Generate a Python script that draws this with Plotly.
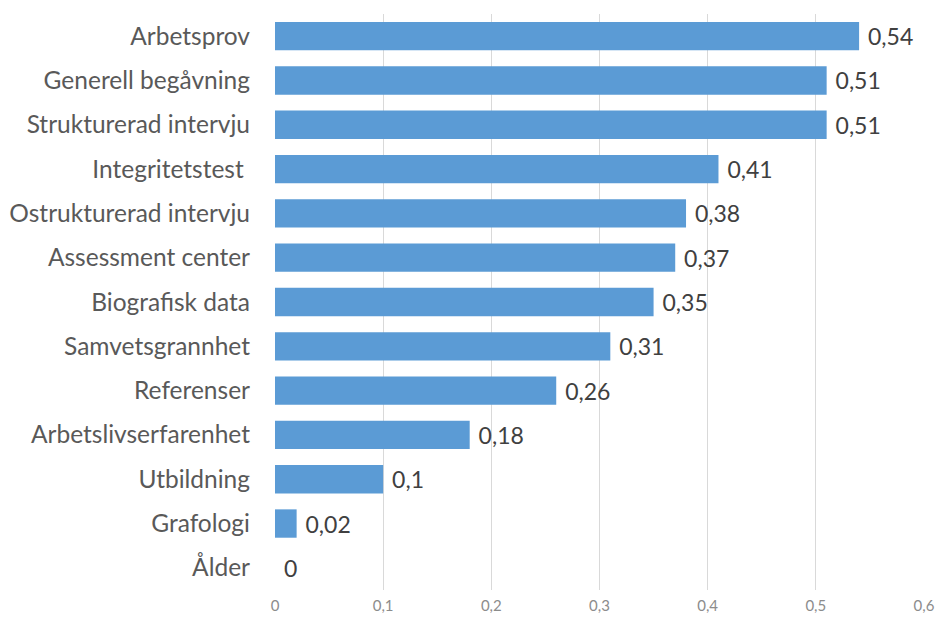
import plotly.graph_objects as go

categories = ["Arbetsprov", "Generell begåvning", "Strukturerad intervju", "Integritetstest ",
              "Ostrukturerad intervju", "Assessment center", "Biografisk data", "Samvetsgrannhet",
              "Referenser", "Arbetslivserfarenhet", "Utbildning", "Grafologi", "Ålder"]
values = [0.54, 0.51, 0.51, 0.41, 0.38, 0.37, 0.35, 0.31, 0.26, 0.18, 0.10, 0.02, 0]
tick_vals = [0, 0.1, 0.2, 0.3, 0.4, 0.5, 0.6]
tick_text = ["0", "0,1", "0,2", "0,3", "0,4", "0,5", "0,6"]

labels = [(" " + ("%g" % v).replace(".", ",")) for v in values]

fig = go.Figure(go.Bar(
    y=categories, x=values, orientation="h",
    marker=dict(color="#5B9BD5", line=dict(width=0)),
    text=labels, textposition="outside", cliponaxis=False,
    textfont=dict(size=23, color="#404040", family="Lato"),
))
fig.update_layout(
    width=940, height=618,
    margin=dict(l=275, r=16, t=14, b=28, autoexpand=False),
    paper_bgcolor="white", plot_bgcolor="white",
    bargap=0.36, showlegend=False,
    font=dict(family="Lato", color="#595959"),
)
fig.update_xaxes(range=[0, 0.6], tickvals=tick_vals, ticktext=tick_text,
                 showgrid=True, gridcolor="#D9D9D9", gridwidth=1,
                 zeroline=False, showline=False, ticks="", automargin=False,
                 tickfont=dict(size=15, color="#8C8C8C"), ticklabelstandoff=5)
fig.update_yaxes(autorange="reversed", ticks="", showline=False, automargin=False,
                 tickfont=dict(size=24.5, color="#595959"), ticklabelstandoff=24)
fig.write_html("out.html")
